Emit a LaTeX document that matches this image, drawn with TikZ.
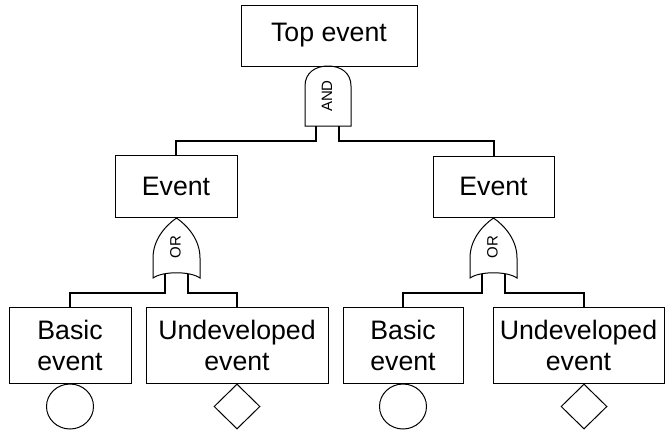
\documentclass[tikz,border=0pt]{standalone}
\usepackage{fontspec}
\setmainfont{Liberation Sans}
\usetikzlibrary{shapes.geometric}

\begin{document}
\begin{tikzpicture}[x=1pt, y=-1pt, line width=1pt,
  eventbox/.style={draw, black, inner sep=0pt, align=center,
    font=\fontsize{26.7}{31}\selectfont},
  gatelabel/.style={rotate=90, inner sep=0pt, font=\fontsize{15}{15}\selectfont},
  link/.style={line width=2pt},
  basicmark/.style={draw, ellipse, minimum width=47pt, minimum height=45pt, inner sep=0pt, anchor=north},
  undevmark/.style={draw, diamond, minimum width=46pt, minimum height=45pt, inner sep=0pt, anchor=north}]
\useasboundingbox (0,0) rectangle (666,429);
% box Top event
\node[eventbox, minimum width=176pt, minimum height=61pt] (top) at (329,35.5) {Top event};
% boxes Event
\node[eventbox, minimum width=122pt, minimum height=62pt] (evL) at (176,186) {Event};
\node[eventbox, minimum width=121pt, minimum height=61pt] (evR) at (493.5,186.5) {Event};
% boxes bottom row
\node[eventbox, minimum width=122pt, minimum height=76pt] (basL) at (70,345) {Basic\\event};
\node[eventbox, minimum width=182pt, minimum height=76pt] (undL) at (237,345) {Undeveloped\\event};
\node[eventbox, minimum width=120pt, minimum height=76pt] (basR) at (403,345) {Basic\\event};
\node[eventbox, minimum width=171pt, minimum height=76pt] (undR) at (578.5,345) {Undeveloped\\event};
% circles and diamonds
\node[basicmark] (basLc) at (basL.south) {};
\node[undevmark] (undLd) at (undL.south) {};
\node[basicmark] (basRc) at (basR.south) {};
\node[undevmark] (undRd) at ([xshift=5.5pt]undR.south) {};
%% gate AND
\coordinate (andA) at (316,126) ;
\coordinate (andB) at (339,126) ;
\draw (305,126) -- (305,86) .. controls (305,73) and (315,66) .. (328,66)
  .. controls (341,66) and (351,73) .. (351,86) -- (351,126) -- cycle ;
\node[gatelabel] (andlbl) at (327,96) {AND};
\draw[link] (andA) -- ++(0,15) -| (evL.north);
\draw[link] (andB) -- ++(0,15) -| (evR.north);
%% gate OR left
\coordinate (orLa) at (165,274) ;
\coordinate (orLb) at (188,274) ;
\draw (153,278) -- (153,258) .. controls (153,240) and (165,226) .. (176.5,218)
  .. controls (188,226) and (200,240) .. (200,258) -- (200,278)
  .. controls (190,271) and (163,271) .. (153,278) -- cycle ;
\node[gatelabel] (orLlbl) at (175.5,247) {OR};
\draw[link] (orLa) -- ++(0,19) -| (basL.north);
\draw[link] (orLb) -- ++(0,19) -| (undL.north);
%% gate OR right
\coordinate (orRa) at (482,274) ;
\coordinate (orRb) at (505,274) ;
\draw (470,278) -- (470,258) .. controls (470,240) and (482,226) .. (493.5,218)
  .. controls (505,226) and (517,240) .. (517,258) -- (517,278)
  .. controls (507,271) and (480,271) .. (470,278) -- cycle ;
\node[gatelabel] (orRlbl) at (492.5,247) {OR};
\draw[link] (orRa) -- ++(0,19) -| (basR.north);
\draw[link] (orRb) -- ++(0,19) -| ([xshift=5.5pt]undR.north);
\end{tikzpicture}
\end{document}
